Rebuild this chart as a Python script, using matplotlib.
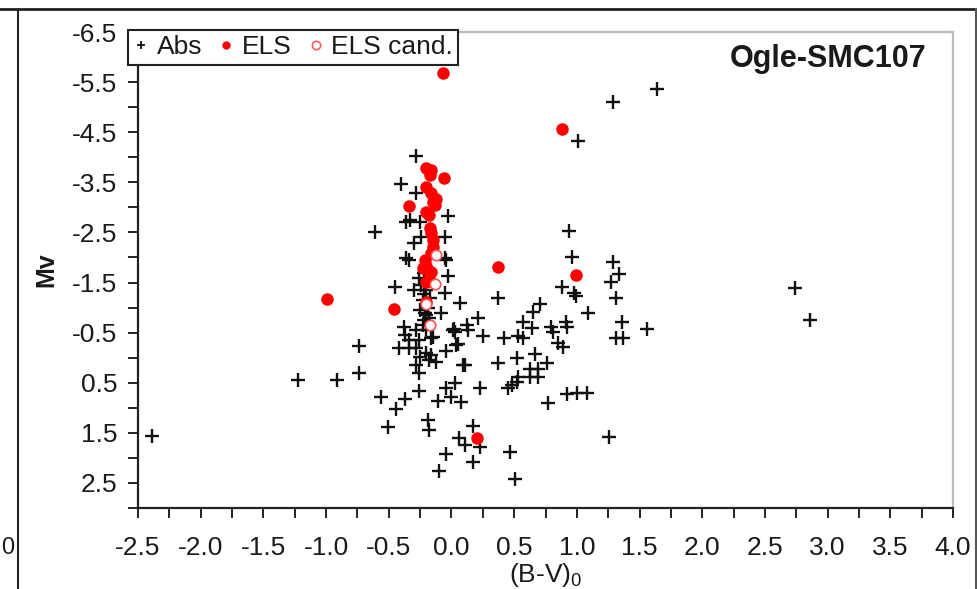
import numpy as np
import matplotlib
matplotlib.use('Agg')
import matplotlib.pyplot as plt
from matplotlib.lines import Line2D
from matplotlib.ticker import FixedLocator

plt.rcParams['font.family'] = ['Liberation Sans', 'DejaVu Sans']
plt.rcParams['mathtext.default'] = 'regular'

# absorption-line stars (black crosses)
abs_bv = [-2.39, -1.22, -0.91, -0.74, -0.74, -0.56, -0.37, -0.44, -0.51, -0.26,
          -0.19, -0.18, -0.11, -0.04, -0.10, 0.06, 0.11, 0.00, 0.08, 0.03,
          -0.04, 0.09, -0.37, -0.42, -0.34, -0.28, -0.25, -0.20, -0.16, -0.12,
          -0.28, -0.26, -0.15, -0.04, 0.04, 0.03, -0.34, -0.45, -0.04, -0.03,
          -0.05, 0.07, -0.08, 0.21, 0.01, 0.12, 0.13, -0.38, -0.34, -0.26,
          -0.28, -0.16, -0.18, 0.11,
          -0.22, -0.21, -0.22, -0.24, -0.20, -0.23, -0.19, -0.25, -0.18, -0.23,
          -0.20, -0.17, -0.26, -0.22, -0.30, -0.20,
          -0.28, -0.40, -0.28, -0.61, -0.03, -0.33, -0.25, -0.24, -0.05, -0.30,
          -0.36, -0.05, -0.36,
          1.64, 1.29, 1.01, 0.94, 0.96, 1.29, 1.34, 1.27, 0.88, 0.98,
          0.99, 1.31, 0.37, 0.71, 0.65, 1.09, 0.57, 1.36, 0.91, 0.02,
          0.79, 0.81, 0.92, 0.64, 1.56, 0.25, 0.42, 0.53, 0.57, 0.85,
          0.89, 1.31, 1.37, 0.05, 0.52, 0.67, 0.76, 0.37, 0.63, 0.69,
          0.63, 0.69, 0.53, 0.52, 0.48, 0.45, 0.23, 0.92, 1.00, 1.08,
          0.77, 1.26, 0.17, 0.23, 0.17, 0.47, 0.51, 2.74, 2.86]
abs_mv = [1.56, 0.45, 0.45, -0.23, 0.31, 0.78, 0.83, 1.03, 1.38, 0.67,
          1.24, 1.44, 0.87, 1.92, 2.26, 1.61, 1.74, 0.78, 0.88, 0.50,
          0.61, 0.15, -0.45, -0.19, -0.19, -0.19, -0.02, -0.09, -0.06, 0.08,
          0.15, 0.31, -0.42, -0.14, -0.25, -0.52, -1.94, -1.42, -1.95, -1.63,
          -1.30, -1.10, -0.89, -0.79, -0.55, -0.65, -0.55, -0.61, -0.35, -0.35,
          -0.55, -0.39, 0.05, 0.15,
          -1.28, -0.89, -0.75, -1.45, -1.35, -1.15, -1.00, -0.95, -0.80, -0.65,
          -0.55, -1.20, -1.60, -1.70, -1.35, -0.85,
          -4.03, -3.47, -3.28, -2.51, -2.83, -2.75, -2.71, -2.41, -2.41, -2.28,
          -1.98, -1.98, -2.71,
          -5.36, -5.11, -4.33, -2.53, -2.00, -1.90, -1.67, -1.52, -1.42, -1.29,
          -1.23, -1.20, -1.20, -1.08, -0.91, -0.90, -0.71, -0.71, -0.71, -0.57,
          -0.62, -0.52, -0.62, -0.59, -0.57, -0.44, -0.39, -0.43, -0.39, -0.29,
          -0.22, -0.39, -0.39, -0.27, 0.00, -0.07, 0.10, 0.11, 0.23, 0.23,
          0.38, 0.38, 0.38, 0.48, 0.55, 0.61, 0.61, 0.73, 0.71, 0.71,
          0.91, 1.59, 1.36, 1.78, 2.09, 1.88, 2.43, -1.39, -0.75]

# emission-line stars (red dots)
els_bv = [-0.07, 0.88, -0.06, -0.20, -0.16, -0.17, -0.20, -0.16, -0.15, -0.12,
          -0.13, -0.34, -0.20, -0.18, -0.17, -0.16, -0.15, -0.15, -0.16, -0.21,
          -0.20, -0.23, -0.16, -0.20, -0.18, -0.20, -0.46, -0.99, 0.37, 0.99,
          0.20]
els_mv = [-5.69, -4.56, -3.58, -3.78, -3.74, -3.65, -3.41, -3.28, -3.11, -3.16,
          -3.04, -3.03, -2.91, -2.85, -2.58, -2.48, -2.35, -2.21, -2.08, -1.95,
          -1.82, -1.78, -1.72, -1.52, -1.58, -1.12, -0.98, -1.17, -1.81, -1.65,
          1.61]

# ELS candidates (open red circles)
cand_bv = [-0.12, -0.13, -0.20, -0.17]
cand_mv = [-2.05, -1.48, -1.08, -0.65]

x_ticks = [-2.5, -2.0, -1.5, -1.0, -0.5, 0.0, 0.5, 1.0, 1.5, 2.0, 2.5, 3.0, 3.5, 4.0]
y_ticks = [-6.5, -5.5, -4.5, -3.5, -2.5, -1.5, -0.5, 0.5, 1.5, 2.5]

fig = plt.figure(figsize=(9.78, 5.89), dpi=100)
ax = fig.add_axes([138/978, 1 - 508/589, 815/978, 476/589])

ax.plot(abs_bv, abs_mv, '+', color='#111111', ms=9.5, mew=1.7, label='Abs', zorder=2)
ax.plot(els_bv, els_mv, 'o', color='#ff0000', ms=9, mew=0, label='ELS', zorder=3)
ax.plot(cand_bv, cand_mv, 'o', mfc='white', mec='#ff5050', ms=7.5, mew=1.2,
        label='ELS cand.', zorder=4)

ax.set_xlim(-2.5, 4.0)
ax.set_ylim(3.0, -6.5)
ax.set_xticks(x_ticks)
ax.set_xticklabels(['%.1f' % v for v in x_ticks])
ax.xaxis.set_minor_locator(FixedLocator(np.arange(-2.25, 4.0, 0.5)))
ax.set_yticks(y_ticks)
ax.set_yticklabels(['%.1f' % v for v in y_ticks])
ax.yaxis.set_minor_locator(FixedLocator(np.arange(-6.0, 3.01, 1.0)))

ax.tick_params(axis='both', which='both', direction='out', length=7, width=1.4,
               color='#222222', labelsize=19, labelcolor='#1a1a1a')
ax.tick_params(axis='x', which='major', pad=13)
ax.tick_params(axis='y', which='major', pad=8)

for side in ['left', 'bottom']:
    ax.spines[side].set_color('#222222')
    ax.spines[side].set_linewidth(1.6)
for side in ['top', 'right']:
    ax.spines[side].set_color('#bdbdbd')
    ax.spines[side].set_linewidth(1.6)

ax.set_xlabel('(B-V)$_0$', fontsize=19, color='#1a1a1a', labelpad=1)
ax.set_ylabel('Mv', fontsize=18, fontweight='bold', color='#1a1a1a', labelpad=10)

ax.text(0.968, 0.943, 'Ogle-SMC107', transform=ax.transAxes, ha='right', va='center',
        fontsize=22, fontweight='bold', color='#1a1a1a')

handles = [Line2D([], [], ls='none', marker='+', color='#111111', ms=6, mew=1.3),
           Line2D([], [], ls='none', marker='o', color='#ff0000', ms=6, mew=0),
           Line2D([], [], ls='none', marker='o', mfc='white', mec='#ff5050', ms=6, mew=1.1)]
leg = ax.legend(handles, ['Abs', 'ELS', 'ELS cand.'], loc='upper left',
                bbox_to_anchor=(128/978, 1 - 30/589), bbox_transform=fig.transFigure,
                borderaxespad=0, ncol=3, fontsize=19, handlelength=0.6,
                handletextpad=0.3, columnspacing=0.6, borderpad=0.2,
                fancybox=False, framealpha=1, edgecolor='#222222')
leg.get_frame().set_linewidth(1.5)
for t in leg.get_texts():
    t.set_color('#1a1a1a')

# frame of the surrounding panel
fig.add_artist(Line2D([0, 1], [1 - 9/589, 1 - 9/589], transform=fig.transFigure,
                      color='#222222', lw=2))
fig.add_artist(Line2D([18/978, 18/978], [0, 1 - 9/589], transform=fig.transFigure,
                      color='#222222', lw=1.5))
fig.add_artist(Line2D([976/978, 976/978], [0, 1 - 9/589], transform=fig.transFigure,
                      color='#555555', lw=1.5))
fig.text(1/978, 1 - 548/589, '0', ha='left', va='center', fontsize=17, color='#1a1a1a')

fig.savefig('out.png', dpi=100, facecolor='white')
